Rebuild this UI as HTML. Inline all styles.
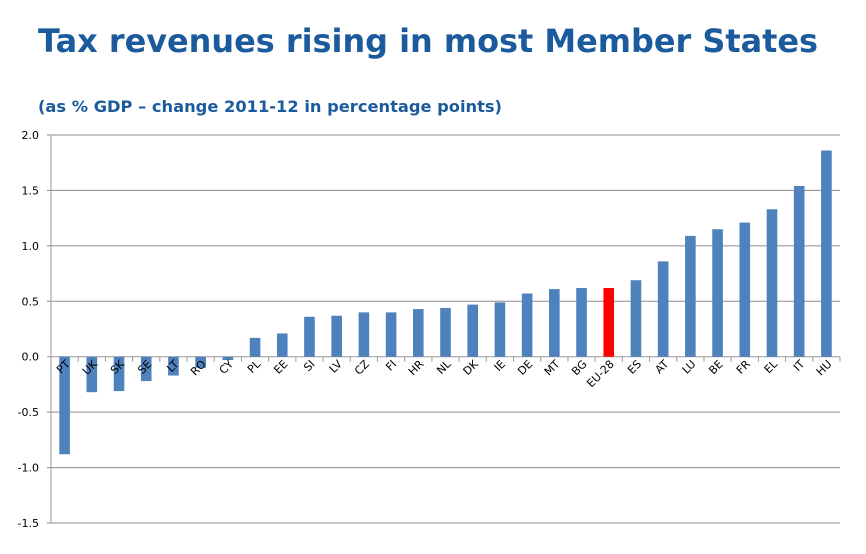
<!DOCTYPE html>
<html><head><meta charset="utf-8"><style>
body{margin:0;background:#fff;width:866px;height:549px;overflow:hidden;font-family:"Liberation Sans",Verdana,sans-serif}
</style></head><body>
<svg width="866" height="549" id="c" style="font-family:'DejaVu Sans','Liberation Sans',sans-serif">
<text x="38" y="52" font-size="32" font-weight="bold" fill="#1b5a9c" textLength="780" lengthAdjust="spacingAndGlyphs">Tax revenues rising in most Member States</text>
<text x="38" y="112" font-size="16" font-weight="bold" fill="#1b5a9c" textLength="464" lengthAdjust="spacingAndGlyphs">(as % GDP – change 2011-12 in percentage points)</text>
<g id="g"></g>
</svg>
<script>
const categories=["PT","UK","SK","SE","LT","RO","CY","PL","EE","SI","LV","CZ","FI","HR","NL","DK","IE","DE","MT","BG","EU-28","ES","AT","LU","BE","FR","EL","IT","HU"];
const values=[-0.88,-0.32,-0.31,-0.22,-0.17,-0.10,-0.03,0.17,0.21,0.36,0.37,0.40,0.40,0.43,0.44,0.47,0.49,0.57,0.61,0.62,0.62,0.69,0.86,1.09,1.15,1.21,1.33,1.54,1.86];
const highlight=["EU-28"];
const yTicks=[2.0,1.5,1.0,0.5,0.0,-0.5,-1.0,-1.5];
const ns="http://www.w3.org/2000/svg",g=document.getElementById('g');
const x0=51,x1=840,yMax=2,yMin=-1.5,yTop=135,yBot=523;
const y=v=>yTop+(yMax-v)/(yMax-yMin)*(yBot-yTop);
const bw=(x1-x0)/categories.length;
const xc=i=>x0+bw*(i+0.5);
function mk(t,a){const e=document.createElementNS(ns,t);for(const k in a)e.setAttribute(k,a[k]);g.appendChild(e);return e;}
yTicks.forEach(t=>{
 const l=mk('line',{x1:x0-4,x2:x1,y1:y(t),y2:y(t),stroke:t===0?'#999':'#8c8c8c','stroke-width':1});
 
 
 const tx=mk('text',{x:x0-12,y:y(t)+4,'text-anchor':'end','font-size':11,fill:'#000'});
 tx.textContent=t.toFixed(1);
 
 
});
const ax=mk('line',{x1:x0,x2:x0,y1:yTop,y2:yBot,stroke:'#999'});


categories.forEach((c,i)=>{
 const v=values[i];
 const r=mk('rect',{x:xc(i)-5.3,width:10.6,y:Math.min(y(v),y(0)),height:Math.abs(y(v)-y(0)),fill:highlight.includes(c)?'#ff0000':'#4f81bd'});
 
 
 const tk=mk('line',{x1:x0+bw*(i+1),x2:x0+bw*(i+1),y1:y(0),y2:y(0)+5,stroke:'#999'});
 
 
 const t=mk('text',{x:0,y:0,'text-anchor':'end','font-size':11,fill:'#000',transform:`translate(${xc(i)+6},${y(0)+8}) rotate(-45)`});
 t.textContent=c;
 
 
});
</script>
</body></html>
